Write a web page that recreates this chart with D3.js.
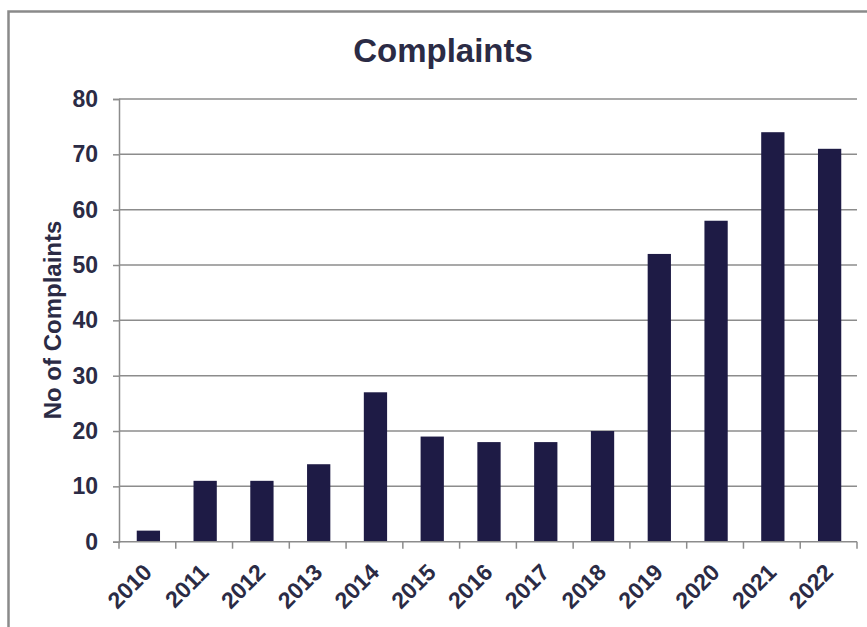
<!DOCTYPE html>
<html>
<head>
<meta charset="utf-8">
<script src="https://cdn.jsdelivr.net/npm/d3@7"></script>
<style>
  html, body { margin: 0; padding: 0; background: #fff; }
  svg { display: block; }
  text { font-family: "Liberation Sans", Arial, sans-serif; font-weight: bold; fill: #2b2b45; }
</style>
</head>
<body>
<svg id="chart" width="867" height="627"></svg>
<script>
const years = ["2010","2011","2012","2013","2014","2015","2016","2017","2018","2019","2020","2021","2022"];
const complaints = [2, 11, 11, 14, 27, 19, 18, 18, 20, 52, 58, 74, 71];
const yTicks = [0, 10, 20, 30, 40, 50, 60, 70, 80];

const svg = d3.select("#chart");
const W = 867, H = 627;
const m = { left: 119, right: 867 - 857, top: 99, bottom: 627 - 541.7 };
const axisColor = "#8c8c8c";
const fontStack = "'Liberation Sans', Arial, sans-serif";

// outer frame (left and top edges)
svg.append("path")
  .attr("d", "M8.5,627V11.5H867")
  .attr("fill", "none").attr("stroke", "#8a8a8a").attr("stroke-width", 2.5);

const x = d3.scaleBand().domain(years).range([m.left, W - m.right]).paddingInner(0.59).paddingOuter(0.295);
const xCat = d3.scaleBand().domain(years).range([m.left, W - m.right]);
const y = d3.scaleLinear().domain([0, 80]).range([H - m.bottom, m.top]);

// gridlines
svg.append("g")
  .selectAll("line")
  .data(yTicks.filter(d => d > 0))
  .join("line")
  .attr("x1", m.left).attr("x2", W - m.right)
  .attr("y1", d => y(d)).attr("y2", d => y(d))
  .attr("stroke", axisColor).attr("stroke-width", 1.5);

// bars
svg.append("g")
  .selectAll("rect")
  .data(years.map((yr, i) => ({ yr, v: complaints[i] })))
  .join("rect")
  .attr("x", d => x(d.yr) + 1)
  .attr("width", x.bandwidth())
  .attr("y", d => y(d.v))
  .attr("height", d => y(0) - y(d.v))
  .attr("fill", "#1e1b45");

// y axis
const yAxis = svg.append("g")
  .attr("transform", `translate(${m.left},0)`)
  .call(d3.axisLeft(y).tickValues(yTicks).tickSize(6).tickPadding(15));
yAxis.select(".domain").attr("stroke", axisColor).attr("stroke-width", 1.5);
yAxis.selectAll(".tick line").attr("stroke", axisColor).attr("stroke-width", 1.5);
yAxis.selectAll(".tick text")
  .style("font-size", "23px").style("font-family", fontStack).style("font-weight", "bold")
  .attr("fill", "#2b2b45");

// x axis with ticks at category boundaries
const xAxis = svg.append("g").attr("transform", `translate(0,${y(0)})`);
xAxis.append("line")
  .attr("x1", m.left).attr("x2", W - m.right)
  .attr("stroke", axisColor).attr("stroke-width", 1.5);
xAxis.selectAll("line.tk")
  .data(d3.range(years.length + 1))
  .join("line").attr("class", "tk")
  .attr("x1", i => m.left + i * xCat.step())
  .attr("x2", i => m.left + i * xCat.step())
  .attr("y1", 0).attr("y2", 7)
  .attr("stroke", axisColor).attr("stroke-width", 1.5);
xAxis.selectAll("text")
  .data(years)
  .join("text")
  .attr("transform", d => `translate(${xCat(d) + xCat.bandwidth() / 2 + 6},32) rotate(-45)`)
  .attr("text-anchor", "end")
  .style("font-size", "23px")
  .text(d => d);

// title
svg.append("text")
  .attr("x", 443).attr("y", 62)
  .attr("text-anchor", "middle")
  .style("font-size", "33px")
  .text("Complaints");

// y axis title
svg.append("text")
  .attr("transform", "translate(61,320) rotate(-90)")
  .attr("text-anchor", "middle")
  .style("font-size", "24px")
  .text("No of Complaints");
</script>
</body>
</html>
